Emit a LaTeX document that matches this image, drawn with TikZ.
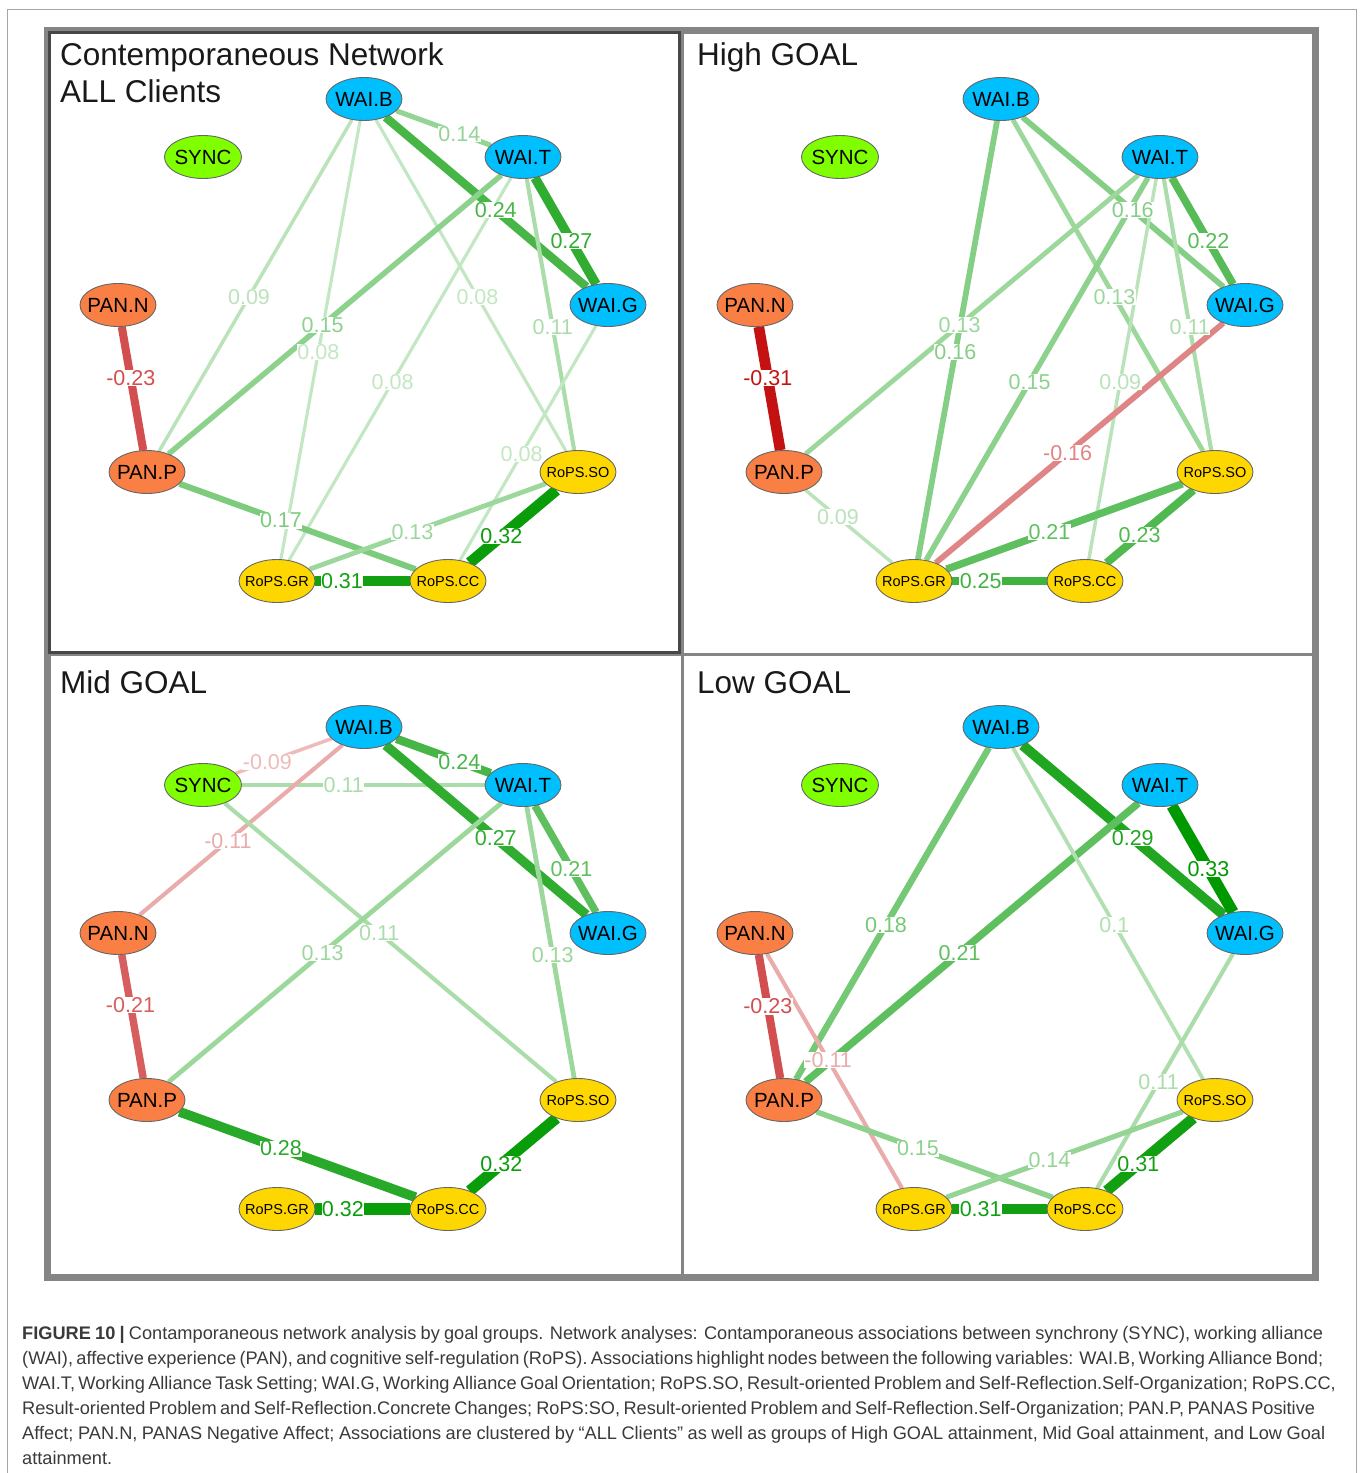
\documentclass[tikz,border=0pt]{standalone}
\usepackage{fontspec}
\setmainfont{Liberation Sans}
\usetikzlibrary{shapes.geometric,calc}

\pgfdeclarelayer{edges}
\pgfdeclarelayer{front}
\pgfsetlayers{edges,main,front}

\definecolor{posg}{HTML}{009900}
\definecolor{negr}{HTML}{BF0000}
\definecolor{waiblue}{HTML}{00BFFF}
\definecolor{syncgreen}{HTML}{7FFF00}
\definecolor{panorange}{HTML}{F97F45}
\definecolor{ropsgold}{HTML}{FFD700}
\definecolor{framegray}{HTML}{858585}
\definecolor{captext}{HTML}{3A3A3A}

\newcounter{edgelab}

\tikzset{
  vnode/.style={ellipse, draw=black!60, line width=0.9pt, minimum width=76pt,
    minimum height=43pt, inner xsep=-10pt, inner ysep=0pt,
    font=\fontsize{20.5}{20.5}\selectfont},
  wai/.style={vnode, fill=waiblue},
  syn/.style={vnode, fill=syncgreen, minimum width=77pt},
  pan/.style={vnode, fill=panorange},
  rops/.style={vnode, fill=ropsgold, font=\fontsize{14.5}{14.5}\selectfont},
  elab/.style={fill=white, inner sep=0.4pt, font=\fontsize{21.5}{21.5}\selectfont},
  paneltitle/.style={anchor=base west, inner sep=0pt, text=black!90,
    font=\fontsize{31.5}{31.5}\selectfont},
  capline/.style={anchor=base west, inner sep=0pt, text=captext,
    font=\fontsize{18.2}{18.2}\selectfont},
}

% nine variables of one network; #1 name prefix, #2/#3 panel offset
\newcommand\netnodes[3]{%
  \begin{pgfonlayer}{front}
  \begin{scope}[shift={(#2,#3)}]
    \node[wai]  (#1WB) at (364,99)  {WAI.B};
    \node[wai]  (#1WT) at (523,157) {WAI.T};
    \node[wai]  (#1WG) at (608,305) {WAI.G};
    \node[syn]  (#1SY) at (203,157) {SYNC};
    \node[pan]  (#1PN) at (118,305) {PAN.N};
    \node[pan]  (#1PP) at (147,472) {PAN.P};
    \node[rops] (#1SO) at (578,472) {RoPS.SO};
    \node[rops] (#1GR) at (277,581) {RoPS.GR};
    \node[rops] (#1CC) at (448,581) {RoPS.CC};
  \end{scope}
  \end{pgfonlayer}}

% weighted edge: #1 from, #2 to, #3 |weight|, #4 label position, #5 base colour, #6 sign
\newcommand\netedge[6]{%
  \pgfmathtruncatemacro\edgepct{min(100,#3/0.33*100)}%
  \pgfmathsetmacro\edgelw{0.5+33*#3}%
  \colorlet{ecol}{#5!\edgepct!white}%
  \begin{pgfonlayer}{edges}
    \draw[line width=\edgelw pt, ecol] (#1) -- (#2);
  \end{pgfonlayer}
  \stepcounter{edgelab}%
  \node[elab, text=ecol] (lab\arabic{edgelab}) at ($(#1)!#4!(#2)$) {#6#3};}
\newcommand\posedge[4]{\netedge{#1}{#2}{#3}{#4}{posg}{}}
\newcommand\negedge[4]{\netedge{#1}{#2}{#3}{#4}{negr}{-}}

\begin{document}
\begin{tikzpicture}[x=1pt, y=-1pt]
\useasboundingbox (0,0) rectangle (1360,1473);

% page frame and panel grid
\draw[black!35, line width=1pt] (7,1473) -- (7,9) -- (1356,9) -- (1356,1473);
\draw[framegray, line width=7pt] (47.5,30.5) rectangle (1315.5,1277);
\draw[framegray, line width=3pt] (682.5,30.5) -- (682.5,1277);
\draw[framegray, line width=3pt] (47.5,654.5) -- (1315.5,654.5);
\draw[black!72, line width=3pt] (49.5,32.5) rectangle (679.5,652.5);

% panel titles
\node[paneltitle] (ttlA) at (60,65)  {Contemporaneous Network};
\node[paneltitle] (ttlA2) at (60,102) {ALL Clients};
\node[paneltitle] (ttlB) at (697,65)  {High GOAL};
\node[paneltitle] (ttlC) at (60,693)  {Mid GOAL};
\node[paneltitle] (ttlD) at (697,693) {Low GOAL};

% ALL Clients
\netnodes{a}{0}{0}
\posedge{aWB}{aWT}{0.14}{0.60}
\posedge{aWB}{aWG}{0.24}{0.54}
\posedge{aWT}{aWG}{0.27}{0.57}
\posedge{aWB}{aPP}{0.09}{0.53}
\posedge{aWB}{aGR}{0.08}{0.525}
\posedge{aWB}{aSO}{0.08}{0.53}
\posedge{aWT}{aPP}{0.15}{0.533}
\posedge{aWT}{aGR}{0.08}{0.53}
\posedge{aWT}{aSO}{0.11}{0.54}
\posedge{aWG}{aCC}{0.08}{0.54}
\negedge{aPN}{aPP}{0.23}{0.44}
\posedge{aPP}{aCC}{0.17}{0.445}
\posedge{aGR}{aSO}{0.13}{0.45}
\posedge{aSO}{aCC}{0.32}{0.59}
\posedge{aGR}{aCC}{0.31}{0.38}

% High GOAL
\netnodes{b}{637}{0}
\posedge{bWB}{bWG}{0.16}{0.54}
\posedge{bWT}{bWG}{0.22}{0.57}
\posedge{bWB}{bSO}{0.13}{0.53}
\posedge{bWT}{bSO}{0.11}{0.54}
\posedge{bWT}{bPP}{0.13}{0.533}
\posedge{bWB}{bGR}{0.16}{0.525}
\posedge{bWT}{bGR}{0.15}{0.53}
\posedge{bWT}{bCC}{0.09}{0.53}
\negedge{bWG}{bGR}{0.16}{0.536}
\negedge{bPN}{bPP}{0.31}{0.44}
\posedge{bPP}{bGR}{0.09}{0.415}
\posedge{bGR}{bSO}{0.21}{0.45}
\posedge{bSO}{bCC}{0.23}{0.58}
\posedge{bGR}{bCC}{0.25}{0.39}

% Mid GOAL
\netnodes{c}{0}{628}
\negedge{cWB}{cSY}{0.09}{0.60}
\posedge{cSY}{cWT}{0.11}{0.44}
\posedge{cWB}{cWT}{0.24}{0.60}
\posedge{cWB}{cWG}{0.27}{0.54}
\posedge{cWT}{cWG}{0.21}{0.57}
\negedge{cWB}{cPN}{0.11}{0.553}
\posedge{cSY}{cSO}{0.11}{0.47}
\posedge{cWT}{cPP}{0.13}{0.533}
\posedge{cWT}{cSO}{0.13}{0.54}
\negedge{cPN}{cPP}{0.21}{0.43}
\posedge{cPP}{cCC}{0.28}{0.445}
\posedge{cSO}{cCC}{0.32}{0.59}
\posedge{cGR}{cCC}{0.32}{0.385}

% Low GOAL
\netnodes{d}{637}{628}
\posedge{dWB}{dWG}{0.29}{0.54}
\posedge{dWT}{dWG}{0.33}{0.57}
\posedge{dWB}{dPP}{0.18}{0.53}
\posedge{dWT}{dPP}{0.21}{0.533}
\posedge{dWB}{dSO}{0.1}{0.53}
\posedge{dWG}{dCC}{0.11}{0.54}
\negedge{dPN}{dPP}{0.23}{0.44}
\negedge{dPN}{dGR}{0.11}{0.46}
\posedge{dPP}{dCC}{0.15}{0.445}
\posedge{dGR}{dSO}{0.14}{0.45}
\posedge{dSO}{dCC}{0.31}{0.59}
\posedge{dGR}{dCC}{0.31}{0.39}

% caption
\node[capline] (cap1) at (22,1339) {\makebox[1301pt][s]{\textbf{FIGURE 10 |} Contamporaneous network analysis by goal groups. Network analyses: Contamporaneous associations between synchrony (SYNC), working alliance}};
\node[capline] (cap2) at (22,1364) {\makebox[1301pt][s]{(WAI), affective experience (PAN), and cognitive self-regulation (RoPS). Associations highlight nodes between the following variables: WAI.B, Working Alliance Bond;}};
\node[capline] (cap3) at (22,1389) {\makebox[1311pt][s]{WAI.T, Working Alliance Task Setting; WAI.G, Working Alliance Goal Orientation; RoPS.SO, Result-oriented Problem and Self-Reflection.Self-Organization; RoPS.CC,}};
\node[capline] (cap4) at (22,1414) {\makebox[1291pt][s]{Result-oriented Problem and Self-Reflection.Concrete Changes; RoPS:SO, Result-oriented Problem and Self-Reflection.Self-Organization; PAN.P, PANAS Positive}};
\node[capline] (cap5) at (22,1439) {\makebox[1303pt][s]{Affect; PAN.N, PANAS Negative Affect; Associations are clustered by “ALL Clients” as well as groups of High GOAL attainment, Mid Goal attainment, and Low Goal}};
\node[capline] (cap6) at (22,1464) {attainment.};
\end{tikzpicture}
\end{document}
